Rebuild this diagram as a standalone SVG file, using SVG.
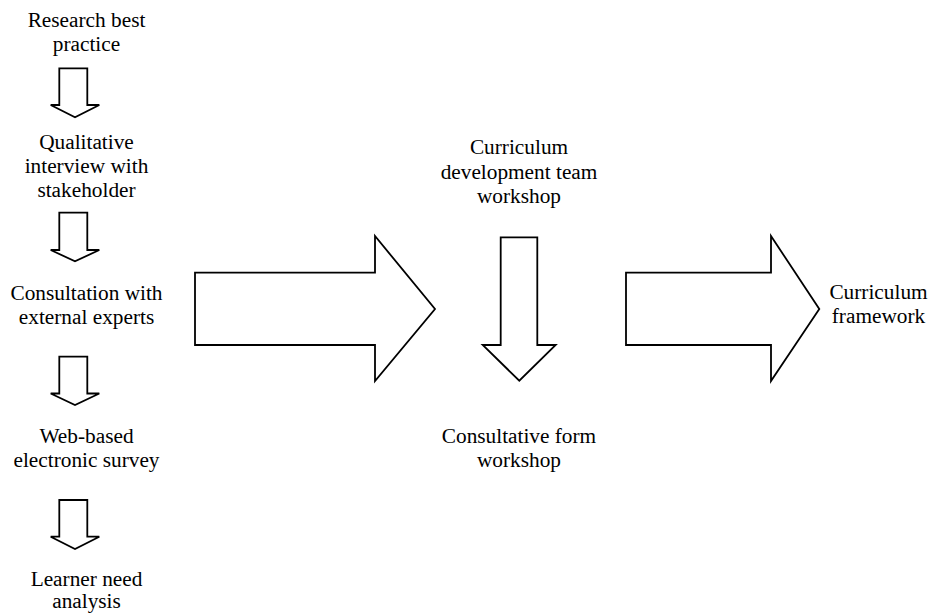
<svg xmlns="http://www.w3.org/2000/svg" width="930" height="613" viewBox="0 0 930 613">
<style>
.t text{font-family:'Liberation Serif','Times New Roman','DejaVu Serif',serif;font-size:21.3px;fill:#000;text-anchor:middle}
.ar{fill:#fff;stroke:#000;stroke-width:1.8;stroke-linejoin:miter}
</style>
<rect width="930" height="613" fill="#fff"/>
<g class="t" font-family="Liberation Serif, serif">
<g id="n1"><text x="86.5" y="27">Research best</text><text x="86.5" y="51">practice</text></g>
<g id="n2"><text x="86.5" y="149">Qualitative</text><text x="86.5" y="173">interview with</text><text x="86.5" y="197">stakeholder</text></g>
<g id="n3"><text x="86.5" y="299.5">Consultation with</text><text x="86.5" y="323.5">external experts</text></g>
<g id="n4"><text x="86.5" y="443">Web-based</text><text x="86.5" y="467">electronic survey</text></g>
<g id="n5"><text x="86.5" y="586">Learner need</text><text x="86.5" y="608">analysis</text></g>
<g id="n6"><text x="519" y="154">Curriculum</text><text x="519" y="178.5">development team</text><text x="519" y="202.5">workshop</text></g>
<g id="n7"><text x="519" y="443.3">Consultative form</text><text x="519" y="467.3">workshop</text></g>
<g id="n8"><text x="878.5" y="298.5">Curriculum</text><text x="878.5" y="322.7">framework</text></g>
</g>
<g id="connectors">
<polygon class="ar" points="59.3,68.3 87.3,68.3 87.3,105 99.3,105 75,117.3 50.7,105 59.3,105"/>
<polygon class="ar" points="59.3,212.7 87.3,212.7 87.3,250 99.3,250 75,261.3 50.7,250 59.3,250"/>
<polygon class="ar" points="59.3,356.7 87.3,356.7 87.3,393.5 99.3,393.5 75,405 50.7,393.5 59.3,393.5"/>
<polygon class="ar" points="59.3,500 87.3,500 87.3,536.7 99.3,536.7 75,549 50.7,536.7 59.3,536.7"/>
<polygon class="ar" points="195,272.7 375,272.7 375,236 435,309 375,381 375,345 195,345"/>
<polygon class="ar" points="500.7,237.3 537.3,237.3 537.3,345 555.7,345 519.3,380.7 482.7,345 500.7,345"/>
<polygon class="ar" points="626,272.7 771,272.7 771,236 819.3,309 771,381 771,345 626,345"/>
</g>
</svg>
